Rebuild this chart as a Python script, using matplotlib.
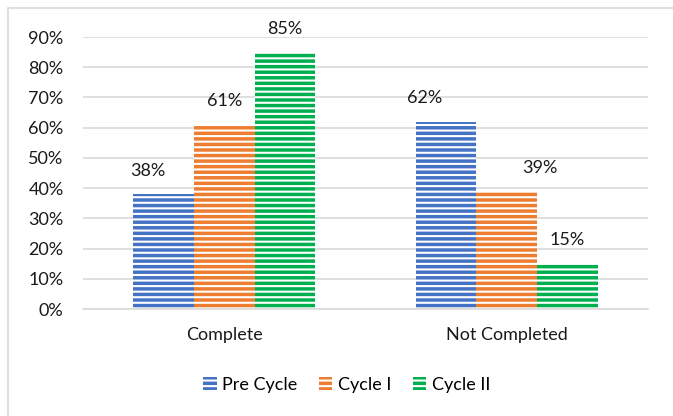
import matplotlib
matplotlib.use("Agg")
import matplotlib.pyplot as plt
from matplotlib.patches import Rectangle, Patch
from matplotlib.ticker import PercentFormatter
import numpy as np

# completion shares per cycle
categories = ["Complete", "Not Completed"]
series = ["Pre Cycle", "Cycle I", "Cycle II"]
pre_cycle = [0.38, 0.62]
cycle_1 = [0.61, 0.39]
cycle_2 = [0.85, 0.15]
values = [pre_cycle, cycle_1, cycle_2]

colors = ["#4472C4", "#ED7D31", "#00B050"]
# small sideways nudges for the value labels (in category units)
label_shift = [[-0.057, -0.074], [0.0, 0.116], [0.0, 0.0]]

plt.rcParams["font.family"] = ["Lato", "DejaVu Sans"]
plt.rcParams["hatch.linewidth"] = 1.5

fig = plt.figure(figsize=(6.73, 4.16), dpi=100)
ax = fig.add_axes([83 / 673, 107 / 416, 565 / 673, 272 / 416])

x = np.arange(len(categories))
w = 0.215
for i, (name, vals) in enumerate(zip(series, values)):
    pos = x + (i - 1) * w
    ax.bar(pos, vals, w, color=colors[i], edgecolor="white", linewidth=0,
           hatch="---", label=name, zorder=2)
    for j, v in enumerate(vals):
        ax.annotate(f"{v:.0%}", (pos[j] + label_shift[i][j], v),
                    xytext=(0, 17), textcoords="offset points",
                    ha="center", va="center", fontsize=13, color="#1a1a1a")

ax.set_xlim(-0.5, 1.5)
ax.set_ylim(0, 0.9)
ax.set_yticks(np.arange(0, 0.91, 0.1))
ax.yaxis.set_major_formatter(PercentFormatter(1.0, decimals=0))
ax.set_xticks(x)
ax.set_xticklabels(categories)
ax.tick_params(axis="both", length=0, labelsize=13, colors="#1a1a1a")
ax.tick_params(axis="y", pad=14)
ax.tick_params(axis="x", pad=13)
ax.grid(axis="y", color="#D9D9D9", linewidth=1.2, zorder=0)
for s in ["top", "right", "left"]:
    ax.spines[s].set_visible(False)
ax.spines["bottom"].set_color("#D9D9D9")
ax.spines["bottom"].set_linewidth(1.2)

handles = [Patch(facecolor=c, edgecolor="white", linewidth=0, hatch="---")
           for c in colors]
fig.legend(handles, series, loc="center", bbox_to_anchor=(0.515, 0.075),
           ncol=3, frameon=False, fontsize=13, handlelength=0.75,
           handleheight=0.75, handletextpad=0.3, columnspacing=1.2)

# chart border
fig.patches.append(Rectangle((8 / 673, -0.1), 1.0, 1.1 - 8 / 416,
                             transform=fig.transFigure, fill=False,
                             edgecolor="#D9D9D9", linewidth=1.2))

fig.savefig("out.png", dpi=100)
